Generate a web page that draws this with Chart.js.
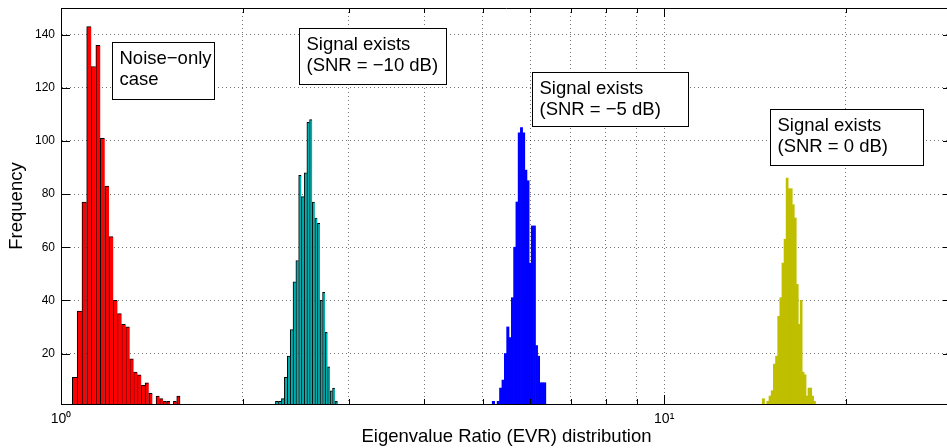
<!DOCTYPE html>
<html><head><meta charset="utf-8">
<script src="https://cdn.jsdelivr.net/npm/chart.js@4.4.1/dist/chart.umd.min.js"></script>
<style>
html,body{margin:0;padding:0;overflow:hidden;background:#fff;width:947px;height:448px}
#wrap{width:947px;height:448px;overflow:hidden;position:relative}
canvas{display:block}
</style></head><body>
<div id="wrap"><canvas id="c" width="952" height="448" style="width:952px;height:448px"></canvas></div>
<script>
// ---- data (histogram bins: first bin left edge, bin width, counts) ----
const noiseBinStart = 1.044, noiseBinWidth = 0.01967;
const noiseCounts = [11,36,77,143,128,136,101,83,64,40,35,31,30,18,13,12,8,9,5,0,4,3,2,2,0,2,4];
const snrM10BinStart = 2.267, snrM10BinWidth = 0.0263;
const snrM10Counts = [2,2,3,11,19,29,47,55,87,79,88,107,108,77,71,69,40,43,28,15,6,7,2];
const snrM5BinStart = 5.186, snrM5BinWidth = 0.0491;
const snrM5Counts = [2,0,2,7,10,20,30,26,41,60,77,103,105,103,89,85,54,68,68,23,19,9,9,9];
const snr0BinStart = 14.54, snr0BinWidth = 0.126;
const snr0Counts = [3,0,2,4,6,16,19,34,41,54,63,86,82,82,76,71,46,31,40,13,12,4,7,7,4,2];
const xTicks = [1,2,3,4,5,6,7,8,9,10,20,30];
const xMajor = [1,10];
const xTickLabels = {1:'10\u2070', 10:'10\u00B9'};
const yTicks = [20,40,60,80,100,120,140];
const xTitle = 'Eigenvalue Ratio (EVR) distribution';
const yTitle = 'Frequency';
const notes = [
  {lines:['Noise\u2212only','case'], x0:1.216, x1:1.796, yTop:137.3, yBottom:115.7},
  {lines:['Signal exists','(SNR = \u221210 dB)'], x0:2.481, x1:4.345, yTop:142.3, yBottom:121.4},
  {lines:['Signal exists','(SNR = \u22125 dB)'], x0:6.034, x1:10.97, yTop:125.8, yBottom:105.6},
  {lines:['Signal exists','(SNR = 0 dB)'], x0:14.95, x1:26.82, yTop:112.0, yBottom:90.9}
];

function toPoints(start, width, counts){
  return counts.map((c,i)=>({x:start + width*(i+0.5), y:c}));
}
const FONT = '"Liberation Sans", Arial, Helvetica, sans-serif';
Chart.defaults.font.family = FONT;
Chart.defaults.color = '#000';

function edgeWidth(ctx){
  const n = ctx.dataset.data.length;
  return {top:1,left:1,bottom:0,right: ctx.dataIndex === n-1 ? 1 : 0};
}
const common = {stack:'hist', barThickness:'flex', categoryPercentage:1, barPercentage:1, clip:0};

const decorPlugin = {
  id:'decor',
  afterDatasetsDraw(chart){
    const {ctx, chartArea:a, scales:{x,y}} = chart;
    ctx.save();
    ctx.strokeStyle = '#000';
    ctx.lineWidth = 1;
    // top border
    ctx.beginPath();
    ctx.moveTo(a.left, a.top+0.5); ctx.lineTo(a.right, a.top+0.5);
    ctx.stroke();
    // inward ticks
    ctx.beginPath();
    yTicks.forEach(v=>{
      const py = Math.round(y.getPixelForValue(v))+0.5;
      ctx.moveTo(a.left, py); ctx.lineTo(a.left+9, py);
      ctx.moveTo(a.right-9, py); ctx.lineTo(a.right, py);
    });
    xTicks.forEach(v=>{
      const px = Math.round(x.getPixelForValue(v))+0.5;
      const len = xMajor.includes(v) ? 9 : 5;
      ctx.moveTo(px, a.bottom); ctx.lineTo(px, a.bottom-len);
      ctx.moveTo(px, a.top); ctx.lineTo(px, a.top+len);
    });
    ctx.stroke();
    // annotation boxes
    ctx.font = '18.5px ' + FONT;
    ctx.textBaseline = 'alphabetic';
    ctx.textAlign = 'left';
    notes.forEach(n=>{
      const l = Math.round(x.getPixelForValue(n.x0))+0.5;
      const r = Math.round(x.getPixelForValue(n.x1))+0.5;
      const t = Math.round(y.getPixelForValue(n.yTop))+0.5;
      const b = Math.round(y.getPixelForValue(n.yBottom))+0.5;
      ctx.fillStyle = '#fff';
      ctx.fillRect(l, t, r-l, b-t);
      ctx.strokeStyle = '#000';
      ctx.strokeRect(l, t, r-l, b-t);
      ctx.fillStyle = '#000';
      n.lines.forEach((s,i)=> ctx.fillText(s, l+7, t+21+i*21));
    });
    ctx.restore();
  }
};

new Chart(document.getElementById('c'), {
  type:'bar',
  data:{datasets:[
    {label:'Noise-only', data:toPoints(noiseBinStart,noiseBinWidth,noiseCounts), backgroundColor:'#ff0000', borderColor:'#000', borderWidth:edgeWidth, ...common},
    {label:'SNR -10 dB', data:toPoints(snrM10BinStart,snrM10BinWidth,snrM10Counts), backgroundColor:'#00aeae', borderColor:'#000', borderWidth:edgeWidth, ...common},
    {label:'SNR -5 dB', data:toPoints(snrM5BinStart,snrM5BinWidth,snrM5Counts), backgroundColor:'#0000ff', borderWidth:0, ...common},
    {label:'SNR 0 dB', data:toPoints(snr0BinStart,snr0BinWidth,snr0Counts), backgroundColor:'#bfbf00', borderWidth:0, ...common}
  ]},
  options:{
    responsive:false, animation:false, devicePixelRatio:1,
    layout:{padding:{left:0,right:0,top:8,bottom:0}},
    plugins:{legend:{display:false}, tooltip:{enabled:false}},
    scales:{
      x:{type:'logarithmic', min:1, max:30, offset:false,
        afterBuildTicks(s){ s.ticks = xTicks.map(v=>({value:v, major:xMajor.includes(v)})); },
        afterFit(s){ s.height = 44; s.paddingLeft = 0; s.paddingRight = 0; },
        ticks:{autoSkip:false, maxRotation:0, padding:7, font:{size:14}, callback:(v)=> xTickLabels[v] || ''},
        grid:{offset:false, color:'rgba(0,0,0,0.55)', lineWidth:1, drawTicks:false},
        border:{display:true, color:'#000', width:1, dash:[1,3]},
        title:{display:true, text:xTitle, font:{size:18.5}, padding:{top:0,bottom:0}}
      },
      y:{type:'linear', min:1, max:150, stacked:false,
        afterBuildTicks(s){ s.ticks = yTicks.map(v=>({value:v})); },
        afterFit(s){ s.width = 61; s.paddingTop = 0; s.paddingBottom = 0; },
        ticks:{padding:6, font:{size:12}},
        grid:{color:'rgba(0,0,0,0.55)', lineWidth:1, drawTicks:false},
        border:{display:true, color:'#000', width:1, dash:[1,3]},
        title:{display:true, text:yTitle, font:{size:18.5}, padding:{top:5.5,bottom:0}}
      }
    }
  },
  plugins:[decorPlugin]
});
</script>
</body></html>
